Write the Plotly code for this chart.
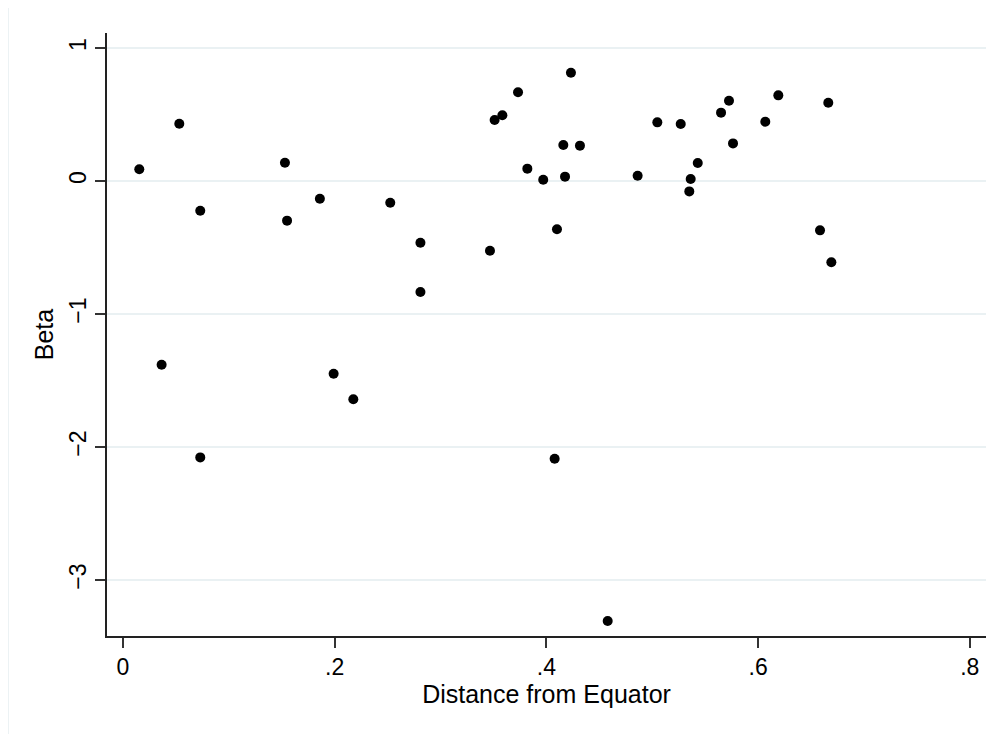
import plotly.graph_objects as go

distance = [0.0154, 0.0532, 0.0365, 0.073, 0.073, 0.153, 0.155, 0.186, 0.199, 0.2176,
            0.2525, 0.281, 0.281, 0.3467, 0.3511, 0.3584, 0.3732, 0.382, 0.397, 0.4078,
            0.410, 0.416, 0.4176, 0.4232, 0.4317, 0.4579, 0.4862, 0.5048, 0.5269, 0.535,
            0.5363, 0.543, 0.565, 0.5725, 0.5763, 0.6068, 0.6191, 0.6585, 0.6663, 0.6692]
beta = [0.088, 0.431, -1.381, -0.223, -2.078, 0.138, -0.298, -0.133, -1.449, -1.641,
        -0.163, -0.464, -0.835, -0.524, 0.459, 0.494, 0.667, 0.093, 0.010, -2.088,
        -0.363, 0.271, 0.033, 0.814, 0.266, -3.308, 0.040, 0.441, 0.429, -0.078,
        0.015, 0.135, 0.514, 0.604, 0.283, 0.446, 0.644, -0.371, 0.589, -0.611]

x_ticks = [0, 0.2, 0.4, 0.6, 0.8]
x_ticklabels = ["0", ".2", ".4", ".6", ".8"]
y_ticks = [-3, -2, -1, 0, 1]
y_ticklabels = ["\u22123", "\u22122", "\u22121", "0", "1"]

FONT = "Liberation Sans, Arial, Helvetica, sans-serif"

fig = go.Figure()
fig.add_trace(go.Scatter(
    x=distance, y=beta, mode="markers",
    marker=dict(color="black", size=10, line=dict(width=0)),
    showlegend=False, hoverinfo="x+y"))

# page body has an 8px margin, so the figure is drawn 8px smaller / shifted
OFF = 8
W, H = 1001 - OFF, 734 - OFF
L, R, T, B = 107 - OFF, 15, 33 - OFF, 98
pw, ph = W - L - R, H - T - B

fig.add_shape(type="rect", xref="paper", yref="paper",
              x0=(8 - OFF - L) / pw, x1=(W + 30 - L) / pw,
              y0=-(B + 30) / ph, y1=(H - B - (6 - OFF)) / ph,
              line=dict(color="#e6eef1", width=1.5), fillcolor="rgba(0,0,0,0)", layer="below")

fig.update_layout(
    width=W, height=H,
    margin=dict(l=L, r=R, t=T, b=B, autoexpand=False),
    paper_bgcolor="white", plot_bgcolor="white",
    font=dict(family=FONT, size=23, color="black"),
    xaxis=dict(range=[-0.0151, 0.8153], tickvals=x_ticks, ticktext=x_ticklabels,
               showgrid=False, zeroline=False, showline=True, linecolor="#222", linewidth=1.5,
               ticks="outside", ticklen=10, tickcolor="#333", tickwidth=1.5,
               tickfont=dict(size=23),
               title=dict(text="Distance from Equator", font=dict(size=25), standoff=0)),
    yaxis=dict(range=[-3.421, 1.113], tickvals=y_ticks, ticktext=y_ticklabels,
               showgrid=True, gridcolor="#eaf1f3", gridwidth=1.5,
               zeroline=False, showline=True, linecolor="#222", linewidth=1.5,
               ticks="outside", ticklen=10, tickcolor="#333", tickwidth=1.5,
               tickangle=-90, tickfont=dict(size=23),
               title=dict(text="Beta", font=dict(size=25), standoff=4)),
)

fig.write_html("out.html")
